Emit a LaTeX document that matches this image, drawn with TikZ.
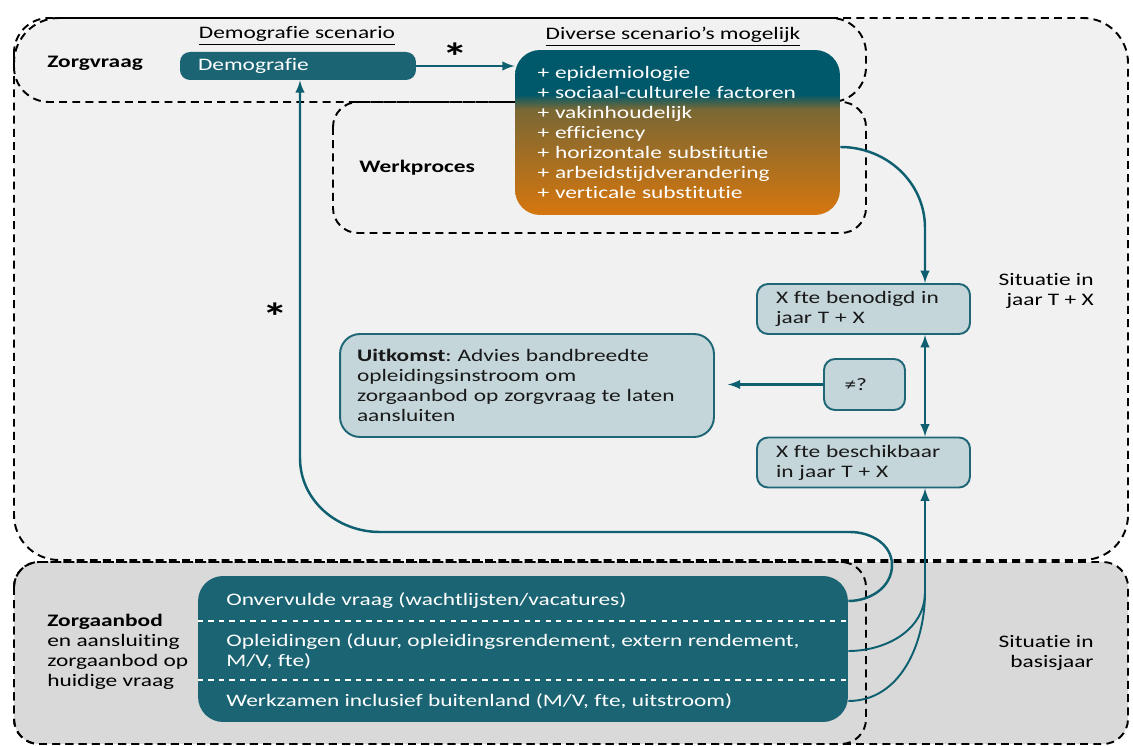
\documentclass[tikz,border=0pt]{standalone}
\usepackage{fontspec}
\setmainfont{Carlito}[FakeStretch=1.33, Ligatures=NoCommon]
\usepackage{xcolor}
\usepackage{tikz}
\usetikzlibrary{arrows.meta, calc}
\frenchspacing
\definecolor{boxteal}{RGB}{27, 100, 115}
\definecolor{linkteal}{RGB}{14, 96, 112}
\definecolor{boxlight}{RGB}{196, 214, 218}
\definecolor{boxedge}{RGB}{31, 103, 118}
\definecolor{bgtop}{RGB}{241, 241, 241}
\definecolor{bgbottom}{RGB}{217, 217, 217}
\definecolor{scteal}{RGB}{0, 89, 106}
\definecolor{scolive}{RGB}{122, 104, 52}
\definecolor{scorange}{RGB}{214, 118, 14}
\pgfdeclareverticalshading{scenshade}{100bp}{color(0bp)=(scorange); color(25bp)=(scorange); color(57bp)=(scolive); color(61.5bp)=(scteal); color(75bp)=(scteal); color(100bp)=(scteal)}

\begin{document}
\begin{tikzpicture}[x=0.02cm, y=-0.02cm, font=\fontsize{10}{11.34}\selectfont,
		region/.style={draw=black, dash pattern=on 4.5pt off 3pt, line width=1.1pt},
		txt/.style={inner sep=0pt, align=left},
		darkbox/.style={fill=boxteal, rounded corners=0.2cm, text=white, align=left, inner ysep=0pt},
		scenbox/.style={shading=scenshade, rounded corners=0.5cm, text=white, align=left, inner ysep=0pt},
		lightbox/.style={draw=boxedge, line width=1.1pt, fill=boxlight, rounded corners=0.22cm, text=black!90, align=left, inner ysep=0pt},
		arr/.style={draw=linkteal, line width=1.4pt, ->, >=latex},
		link/.style={draw=linkteal, line width=1.1pt},
		star/.style={inner sep=0pt, font=\fontsize{22}{22}\selectfont\bfseries}]
			\useasboundingbox (0,0) rectangle (1133,746);
			\draw[region, fill=bgtop, rounded corners=0.9cm] (14,18) rectangle (1128,560);
			\draw[region, rounded corners=0.7cm] (14,18) rectangle (866,102);
			\draw[region, rounded corners=0.5cm] (333,102) rectangle (866,233);
			\draw[region, fill=bgbottom, rounded corners=0.5cm] (14,562) rectangle (1128,744);
			\draw[region, rounded corners=0.5cm] (14,562) rectangle (866,744);

			\node[txt, anchor=west, font=\fontsize{10}{11.34}\selectfont\bfseries] (zorgvraag) at (47,63) {Zorgvraag};
			\node[txt, anchor=west, font=\fontsize{10}{11.34}\selectfont\bfseries] (werkproces) at (359,168) {Werkproces};
			\node[txt] (demolbl) at (297,36) {\underline{Demografie scenario}};
			\node[txt] (scenlbl) at (673,37) {\underline{Diverse scenario’s mogelijk}};

			\node[darkbox, text width=4cm, inner xsep=0.36cm, minimum height=0.56cm] (demo) at (298,66) {Demografie};
			\node[scenbox, text width=5.6cm, inner xsep=0.45cm, minimum height=3.3cm] (scen) at (677.5,132.5) {+ epidemiologie\\+ sociaal-culturele factoren\\+ vakinhoudelijk\\+ efficiency\\+ horizontale substitutie\\+ arbeidstijdverandering\\+ verticale substitutie};

			\node[lightbox, text width=3.5cm, inner xsep=0.38cm, minimum height=1cm] (benod) at (863.5,309) {X fte benodigd in\\jaar T + X};
			\node[lightbox, text width=0.8cm, inner xsep=0.41cm, minimum height=1.02cm] (neq) at (864.5,384.5) {≠?};
			\node[lightbox, rounded corners=0.4cm, text width=6.8cm, inner xsep=0.34cm, minimum height=2.06cm] (uitk) at (527,385.5) {\textbf{Uitkomst}: Advies bandbreedte\\opleidingsinstroom om\\zorgaanbod op zorgvraag te laten\\aansluiten};
			\node[lightbox, text width=3.5cm, inner xsep=0.38cm, minimum height=1cm] (besch) at (863.5,462.5) {X fte beschikbaar\\in jaar T + X};
			\node[txt, anchor=east, align=right] (sittop) at (1094,291) {Situatie in\\jaar T + X};

			\node[darkbox, rounded corners=0.5cm, minimum width=13cm, minimum height=2.92cm] (aanbod) at (523,649) {};
			\draw[white, dashed, line width=0.8pt] (aanbod.west |- 0,621) -- (aanbod.east |- 0,621);
			\draw[white, dashed, line width=0.8pt] (aanbod.west |- 0,680) -- (aanbod.east |- 0,680);
			\node[txt, anchor=west, text=white] (onv) at (226,601) {Onvervulde vraag (wachtlijsten/vacatures)};
			\node[txt, anchor=west, text=white] (opl) at (226,651) {Opleidingen (duur, opleidingsrendement, extern rendement,\\M/V, fte)};
			\node[txt, anchor=west, text=white] (werk) at (226,701) {Werkzamen inclusief buitenland (M/V, fte, uitstroom)};
			\node[txt, anchor=west] (aanbodlbl) at (47,652) {\textbf{Zorgaanbod}\\en aansluiting\\zorgaanbod op\\huidige vraag};
			\node[txt, anchor=east, align=right] (sitbase) at (1094,653) {Situatie in\\basisjaar};

			\draw[arr] (demo.east) -- (demo.east -| scen.west);
			\node[star] (star1) at (455,57) {*};
			\coordinate (spine) at (925,228);
			\draw[arr] ([yshift=-0.29cm]scen.east) to[out=0, in=90] (spine) -- (spine |- benod.north);
			\draw[arr, <->] (spine |- benod.south) -- (spine |- besch.north);
			\draw[arr, shorten >=0.26cm] (neq.west) -- (neq.west -| uitk.east);
			\coordinate (merge) at (925,592);
			\draw[arr] (merge) -- (merge |- besch.south);
			\draw[link] (aanbod.east |- opl) to[out=0, in=-90] (merge);
			\draw[link] (aanbod.east |- werk) to[out=0, in=-90] (merge);
			\coordinate (loopR) at (892,565);
			\coordinate (loopT) at (850,532);
			\coordinate (loopL) at (380,532);
			\coordinate (loopU) at (300,458);
			\draw[arr] (aanbod.east |- onv) to[out=0, in=-90] (loopR) to[out=90, in=0] (loopT) -- (loopL) to[out=180, in=-90] (loopU) -- (loopU |- demo.south);
			\node[star] (star2) at (275,317) {*};
		\end{tikzpicture}
\end{document}
